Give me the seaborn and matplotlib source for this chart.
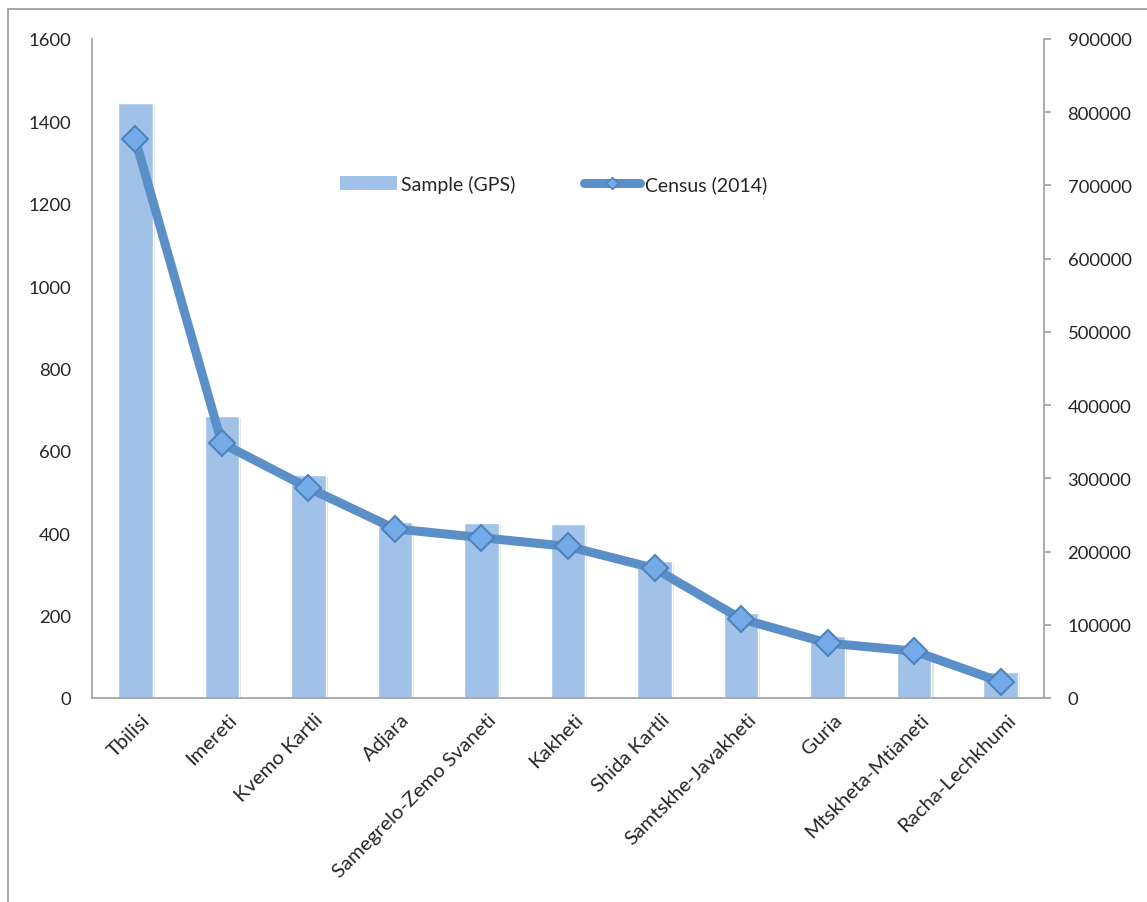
import numpy as np
import pandas as pd
import matplotlib
matplotlib.use("Agg")
import matplotlib.pyplot as plt
import matplotlib.patheffects as pe
from matplotlib.patches import Patch, Rectangle
from matplotlib.lines import Line2D
from matplotlib.transforms import ScaledTranslation
import seaborn as sns

regions = ["Tbilisi", "Imereti", "Kvemo Kartli", "Adjara", "Samegrelo-Zemo Svaneti",
           "Kakheti", "Shida Kartli", "Samtskhe-Javakheti", "Guria", "Mtskheta-Mtianeti",
           "Racha-Lechkhumi"]
sample_gps = [1445, 685, 541, 428, 426, 423, 332, 206, 150, 115, 63]
census_2014 = [763000, 348000, 287000, 231000, 219000, 207000, 177000, 108000, 75000, 64000, 22000]

left_ticks = [0, 200, 400, 600, 800, 1000, 1200, 1400, 1600]
right_ticks = [0, 100000, 200000, 300000, 400000, 500000, 600000, 700000, 800000, 900000]

df = pd.DataFrame({"region": regions, "sample": sample_gps, "census": census_2014})
df["pos"] = np.arange(len(df))

sns.set_theme(style="white")
plt.rcParams["font.family"] = ["Lato", "DejaVu Sans"]

BAR = "#A0C2E9"
LINE = "#5B8FC7"
MFACE = "#74AAE8"
MEDGE = "#4F83BE"
AXIS = "#A6A6A6"
FS = 13.3
XFS = 14.6
LFS = 14.0

fig = plt.figure(figsize=(11.47, 9.03), dpi=100)
ax = fig.add_axes([92 / 1147, 1 - 699 / 903, (1044 - 92) / 1147, (699 - 40) / 903])

# outer frame of the chart area
fig.patches.append(Rectangle((8 / 1147, 1 - 1000 / 903), 1.2, (1000 - 10) / 903,
                             transform=fig.transFigure, fill=False,
                             edgecolor="#A0A0A0", linewidth=1.3, zorder=0))

sns.barplot(data=df, x="pos", y="sample", color=BAR, width=0.4, saturation=1,
            native_scale=False, ax=ax, zorder=2)
for p in ax.patches:
    p.set_path_effects([pe.SimplePatchShadow(offset=(1.5, -1.5), alpha=0.12, shadow_rgbFace="black"),
                        pe.Normal()])

ax.set_ylim(0, 1600)
ax.set_xlim(-0.5, len(regions) - 0.5)
ax.set_yticks(left_ticks)
ax.set_yticklabels([str(t) for t in left_ticks], fontsize=FS)
ax.tick_params(axis="y", length=0, pad=15)
ax.set_xticks(df["pos"])
ax.set_xticklabels(regions, rotation=45, ha="right", rotation_mode="anchor", fontsize=XFS)
ax.tick_params(axis="x", length=0, pad=9)
shift = ScaledTranslation(6 / 100, 0, fig.dpi_scale_trans)
for lbl in ax.get_xticklabels():
    lbl.set_transform(lbl.get_transform() + shift)
ax.set_xlabel("")
ax.set_ylabel("")
for s in ["top", "right"]:
    ax.spines[s].set_visible(False)
for s in ["left", "bottom"]:
    ax.spines[s].set_color(AXIS)
    ax.spines[s].set_linewidth(1.3)

ax2 = ax.twinx()
sns.lineplot(data=df, x="pos", y="census", ax=ax2, color=LINE, linewidth=6.5,
             marker="D", markersize=13, markerfacecolor=MFACE, markeredgecolor=MEDGE,
             markeredgewidth=1.5, sort=False, legend=False, zorder=3)
ax2.set_ylim(0, 900000)
ax2.set_xlim(-0.5, len(regions) - 0.5)
ax2.set_yticks(right_ticks)
ax2.set_yticklabels([str(t) for t in right_ticks], fontsize=FS)
ax2.tick_params(axis="y", length=5, width=1.3, color=AXIS, pad=12, direction="out")
ax2.set_xlabel("")
ax2.set_ylabel("")
for s in ["top", "left", "bottom"]:
    ax2.spines[s].set_visible(False)
ax2.spines["right"].set_color(AXIS)
ax2.spines["right"].set_linewidth(1.3)

handles = [Patch(facecolor=BAR, edgecolor="none", label="Sample (GPS)"),
           Line2D([0], [0], color=LINE, linewidth=6.5, marker="D", markersize=6,
                  markerfacecolor=MFACE, markeredgecolor=MEDGE, solid_capstyle="round",
                  label="Census (2014)")]
ax2.legend(handles=handles, loc="center", bbox_to_anchor=(0.485, 0.780), ncol=2,
           frameon=False, fontsize=LFS, handlelength=2.9, handleheight=0.7,
           handletextpad=0.25, columnspacing=3.5)

fig.savefig("out.png", dpi=100)
